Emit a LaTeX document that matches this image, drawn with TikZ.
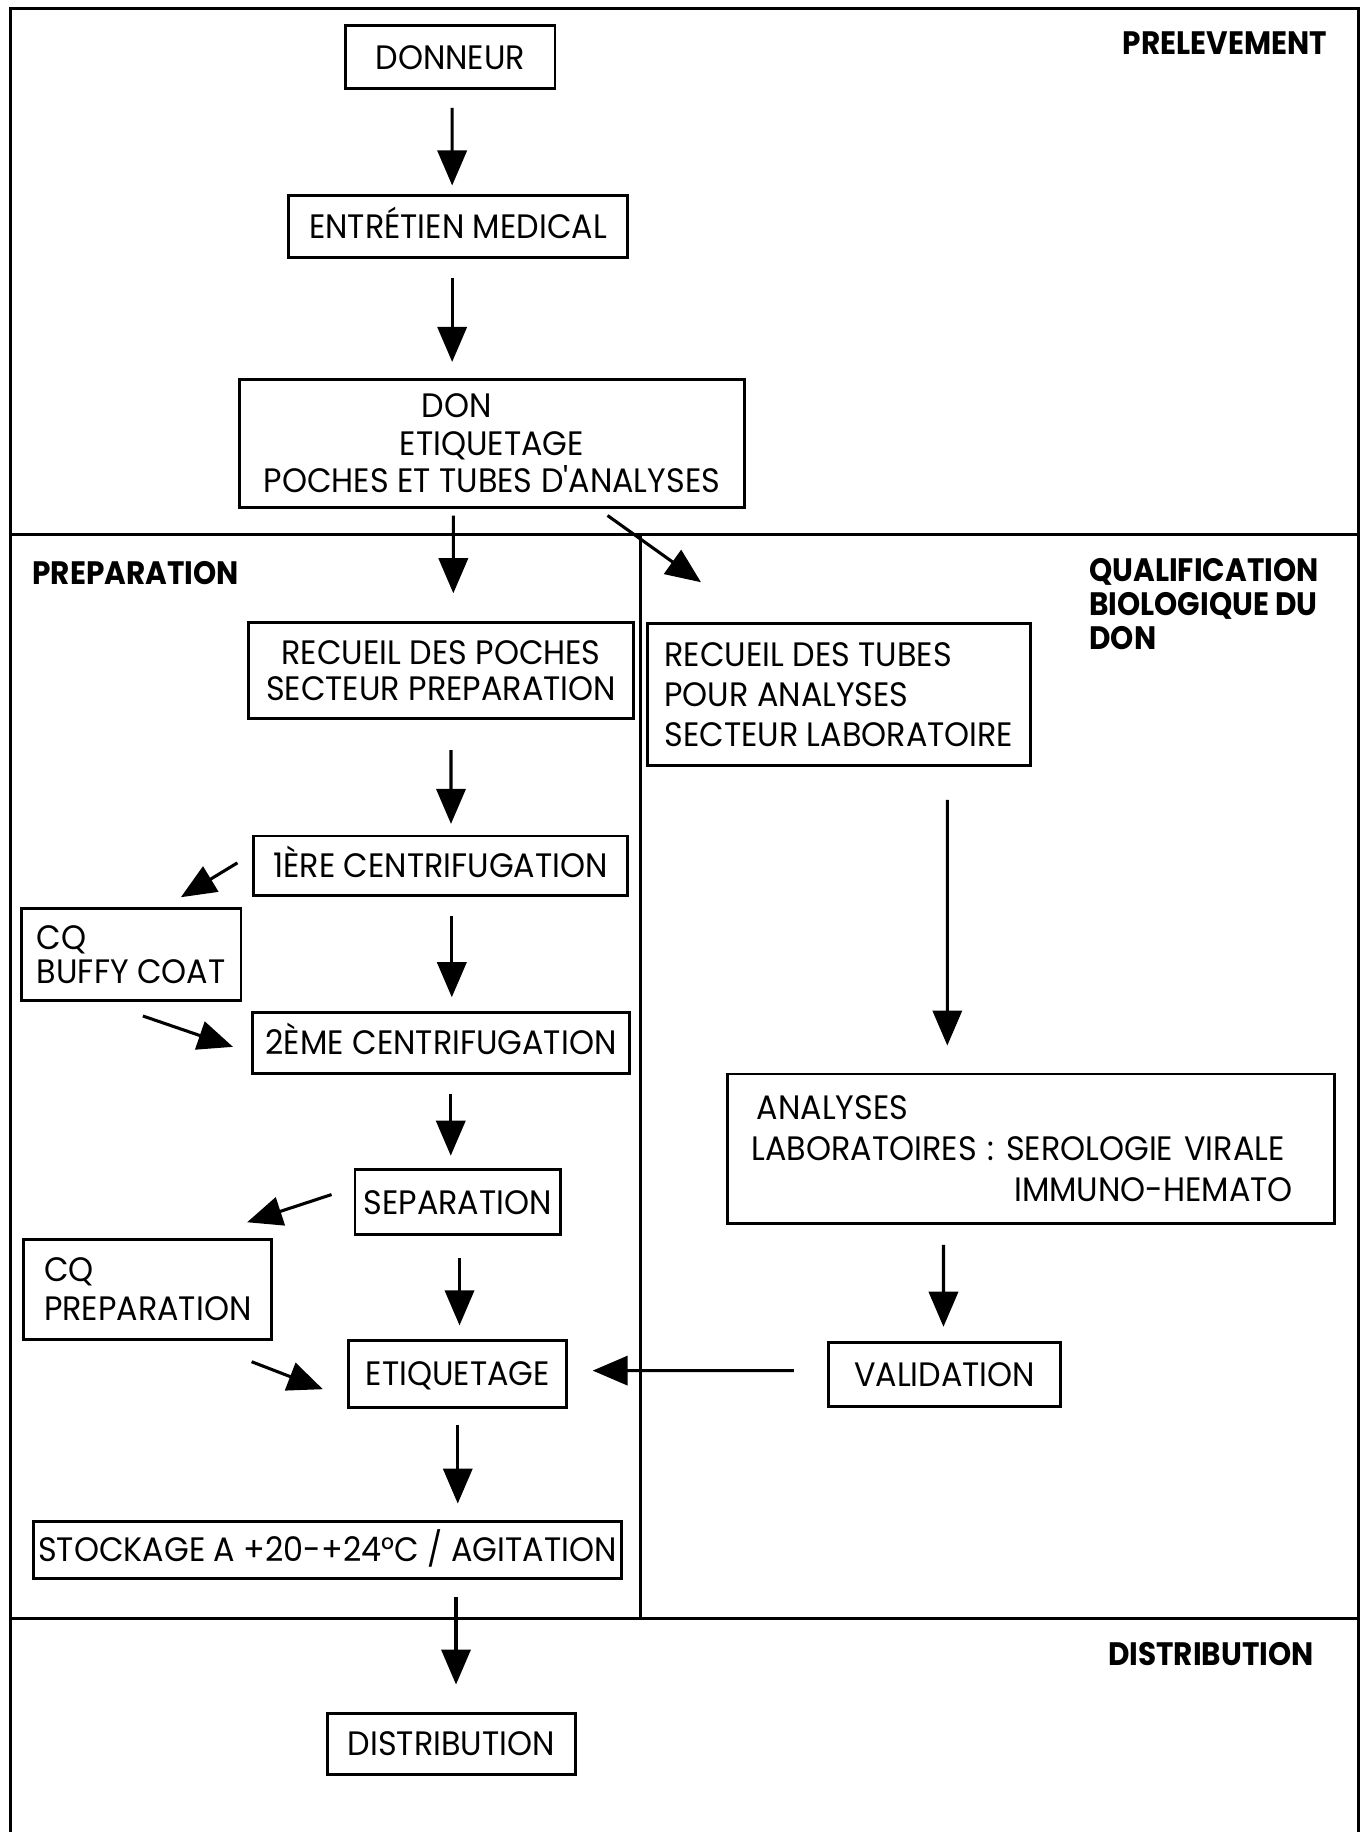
\documentclass[tikz,border=0pt]{standalone}
\usepackage{fontspec}
\setmainfont{Poppins}
\newfontfamily\bodyfont[FakeStretch=0.94]{Poppins}
\newfontfamily\labfont[FakeStretch=0.91]{Poppins}
\usetikzlibrary{arrows.meta,calc}
\newcommand\tsz[1]{\bodyfont\fontsize{16.5pt}{#1pt}\selectfont}
\newcommand\lsz{\labfont\bfseries\fontsize{15.8pt}{16.5pt}\selectfont}
\begin{document}
\begin{tikzpicture}[x=0.02cm,y=-0.02cm,
  box/.style={draw,line width=1.4pt,inner sep=0pt,font=\tsz{18}},
  sbox/.style={box,text height=11.5pt,text depth=0pt},
  arr/.style={line width=1.5pt,-{Triangle[length=0.6cm,width=0.5cm]}},
  sepline/.style={line width=1.4pt},
  lab/.style={inner sep=0pt,font=\lsz}]
\fill[white] (0,0) rectangle (1170,1568);
\useasboundingbox (0,0) rectangle (1170,1568);

% frame and zone separators
\draw[sepline] (9,1568) -- (9,7.6) -- (1163,7.6) -- (1163,1568);
\draw[sepline] (9,457.5) -- (1163,457.5);
\draw[sepline] (548,457.5) -- (548,1385.3);
\draw[sepline] (9,1385.3) -- (1163,1385.3);

% zone labels
\node[lab,anchor=base east] (lprel) at (1136,47) {PRELEVEMENT};
\node[lab,anchor=base west] (lprep) at (27.5,500) {PREPARATION};
\node[lab,anchor=north west,align=left] (lqual) at (932,478) {QUALIFICATION\\BIOLOGIQUE DU\\DON};
\node[lab,anchor=base east] (ldist) at (1124.6,1425.9) {DISTRIBUTION};

% boxes
\node[sbox,minimum width=3.58cm,minimum height=1.08cm] (donneur) at (385.5,49) {DONNEUR};
\node[sbox,minimum width=5.8cm,minimum height=1.06cm] (entretien) at (392,194) {ENTRÉTIEN MEDICAL};
\node[box,align=center,font=\tsz{18.2},minimum width=8.64cm,minimum height=2.18cm] (don) at (421,379.5) {DON\hspace*{1.2cm}\\ETIQUETAGE\hspace*{0.84cm}\\POCHES ET TUBES D'ANALYSES};
\node[box,align=center,font=\tsz{17.6},minimum width=6.58cm,minimum height=1.64cm] (poches) at (377.5,574) {RECUEIL DES POCHES\\SECTEUR PREPARATION};
\node[box,align=left,font=\tsz{19.3},minimum width=6.55cm,minimum height=2.43cm] (tubes) at (718,594.5) {RECUEIL DES TUBES\\POUR ANALYSES\\SECTEUR LABORATOIRE};
\node[sbox,minimum width=6.4cm,minimum height=1.02cm] (premiere) at (377,741) {1ÈRE CENTRIFUGATION};
\node[box,align=left,font=\tsz{16.8},minimum width=3.76cm,minimum height=1.57cm] (buffy) at (112.3,817) {CQ\\BUFFY COAT};
\node[sbox,minimum width=6.46cm,minimum height=1.05cm] (deuxieme) at (377.5,892.5) {2ÈME CENTRIFUGATION};
\node[sbox,minimum width=3.52cm,minimum height=1.11cm] (separation) at (391.8,1029) {SEPARATION};
\node[box,align=left,font=\tsz{18.8},minimum width=4.25cm,minimum height=1.71cm] (cqprep) at (126.5,1103.6) {CQ\\PREPARATION};
\node[sbox,minimum width=3.73cm,minimum height=1.16cm] (etiq) at (391.8,1176) {ETIQUETAGE};
\node[sbox,minimum width=10.07cm,minimum height=0.98cm] (stockage) at (280.2,1326.6) {STOCKAGE A +20-+24°C / AGITATION};
\node[box,align=left,text width=9.564cm,font=\tsz{19.9},minimum width=10.38cm,minimum height=2.56cm] (analyses) at (882.4,983.2) {\hspace*{0.09cm}ANALYSES\\LABORATOIRES : SEROLOGIE VIRALE\\\hspace*{\fill}IMMUNO-HEMATO\hspace*{0.3cm}\null};
\node[sbox,minimum width=3.98cm,minimum height=1.09cm] (validation) at (808.5,1176.5) {VALIDATION};
\node[sbox,minimum width=4.25cm,minimum height=1.04cm] (distribution) at (386.2,1492.4) {DISTRIBUTION};

% connectors
\draw[arr] ($(donneur.south)+(1.5,15)$) -- ($(entretien.north)+(-5,-7.5)$);
\draw[arr] ($(entretien.south)+(-5,16.5)$) -- ($(don.north)+(-34,-14)$);
\draw[arr] ($(don.south)+(-33,6)$) -- ($(poches.north)+(10.5,-24)$);
\draw[arr] ($(don.south)+(99,6)$) -- ($(tubes.north west)+(46.9,-34.2)$);
\draw[arr] ($(poches.south)+(8.5,25.7)$) -- ($(premiere.north)+(9,-9.1)$);
\draw[arr] ($(premiere.west)+(-12.6,-2.5)$) -- ($(buffy.north)+(42.5,-8.6)$);
\draw[arr] ($(premiere.south)+(9.7,16.3)$) -- ($(deuxieme.north)+(9.2,-11.5)$);
\draw[arr] ($(buffy.south)+(10,12.1)$) -- ($(deuxieme.west)+(-15.4,3.5)$);
\draw[arr] ($(deuxieme.south)+(8.3,16.1)$) -- ($(separation.north)+(-6,-10.9)$);
\draw[arr] ($(separation.west)+(-18.8,-6.6)$) -- ($(cqprep.north east)+(-22.45,-13.5)$);
\draw[arr] ($(separation.south)+(1.5,19)$) -- ($(etiq.north)+(1.5,-11.4)$);
\draw[arr] ($(cqprep.south east)+(-18.6,17.9)$) -- ($(etiq.west)+(-21,13)$);
\draw[arr] ($(validation.west)+(-28.4,-3.4)$) -- ($(etiq.east)+(21,-2.9)$);
\draw[arr] ($(etiq.south)+(0,13)$) -- ($(stockage.north)+(111.6,-14)$);
\draw[arr] ($(stockage.south)+(110.1,14.8)$) -- ($(distribution.north)+(4.1,-23.4)$);
\draw[arr] ($(tubes.south)+(92.8,28.2)$) -- ($(analyses.north)+(-71.6,-23.1)$);
\draw[arr] ($(analyses.south)+(-74.9,17)$) -- ($(validation.north)+(-1,-12.45)$);
\end{tikzpicture}
\end{document}
